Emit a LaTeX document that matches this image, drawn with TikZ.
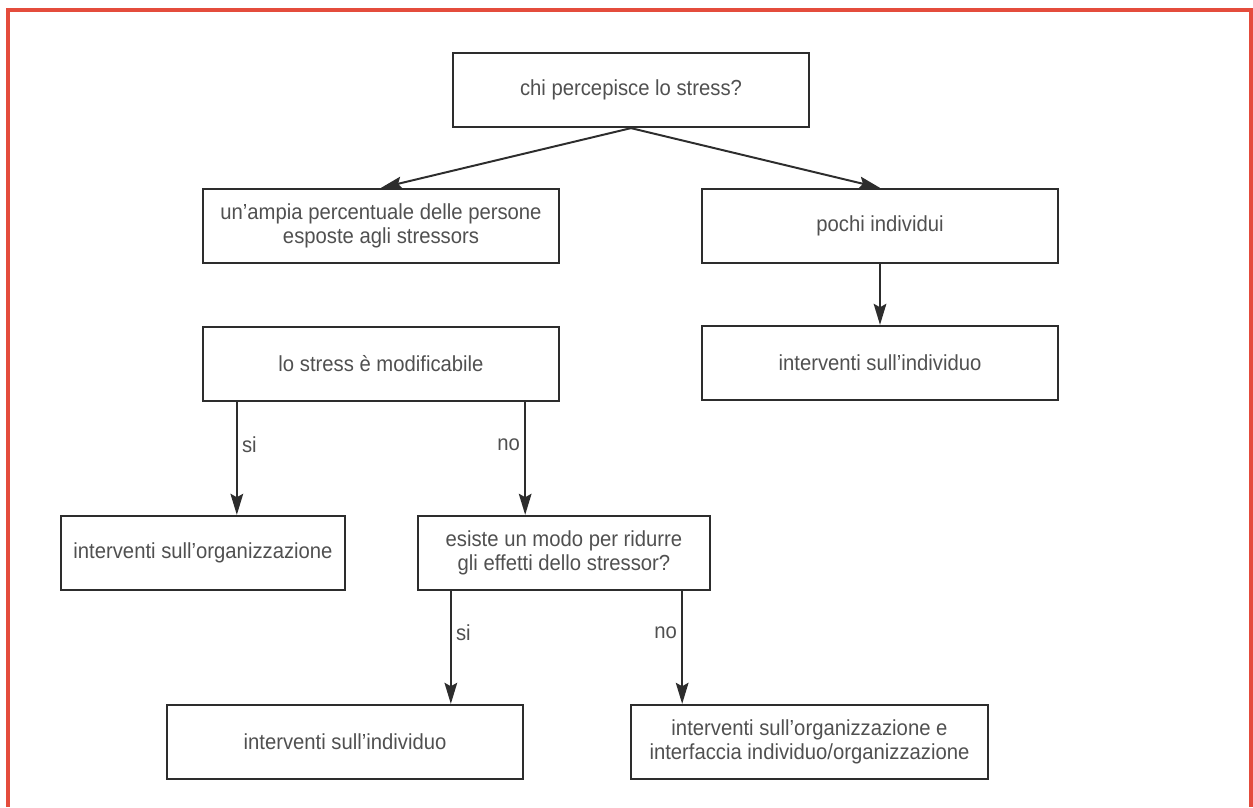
\documentclass[tikz,border=0pt]{standalone}
\usepackage{fontspec}
\setmainfont{Liberation Sans}[FakeStretch=0.93]
\usetikzlibrary{arrows.meta}
\definecolor{framered}{RGB}{228,76,60}
\definecolor{boxline}{RGB}{45,45,45}
\definecolor{txt}{RGB}{80,80,80}

\begin{document}
\begin{tikzpicture}[x=0.025cm,y=-0.025cm,
    box/.style={rectangle,draw=boxline,line width=1.6pt,text=txt,align=center,minimum width=8.9cm,minimum height=1.85cm,inner sep=0pt,font=\fontsize{15.5}{17.5}\selectfont},
    arr/.style={-{Stealth[length=15pt,width=9pt,inset=2.5pt]},line width=1.4pt,draw=boxline,fill=boxline},
    lab/.style={text=txt,font=\fontsize{15.5}{17.5}\selectfont,inner sep=3pt}]

\useasboundingbox (0,0) rectangle (1253,807);
\draw[framered,line width=2.2pt] (8,807) -- (8,10) -- (1251,10) -- (1251,807);

\node[box] (q) at (631,90) {chi percepisce lo stress?};
\node[box] (a) at (381,226) {un’ampia percentuale delle persone\\esposte agli stressors};
\node[box] (b) at (880,226) {pochi individui};
\node[box] (c) at (381,364) {lo stress è modificabile};
\node[box] (d) at (880,363) {interventi sull’individuo};
\node[box,minimum width=7.1cm] (e) at (203,553) {interventi sull’organizzazione};
\node[box,minimum width=7.3cm] (f) at (564,553) {esiste un modo per ridurre\\gli effetti dello stressor?};
\node[box] (g) at (345,742) {interventi sull’individuo};
\node[box,minimum width=8.925cm] (h) at (809.5,742) {interventi sull’organizzazione e\\interfaccia individuo/organizzazione};

\draw[arr] (q.south) -- (a.north);
\draw[arr] (q.south) -- (b.north);
\draw[arr] (b.south) -- (d.north);

\draw[arr] (c.south west) ++(35,0) coordinate (c1) -- (c1 |- e.north)
    node[lab,pos=0.38,right] {si};
\draw[arr] (c.south east) ++(-35,0) coordinate (c2) -- (c2 |- f.north)
    node[lab,pos=0.38,left] {no};
\draw[arr] (f.south west) ++(34,0) coordinate (f1) -- (f1 |- g.north)
    node[lab,pos=0.37,right] {si};
\draw[arr] (f.south east) ++(-29,0) coordinate (f2) -- (f2 |- h.north)
    node[lab,pos=0.37,left] {no};
\end{tikzpicture}
\end{document}
